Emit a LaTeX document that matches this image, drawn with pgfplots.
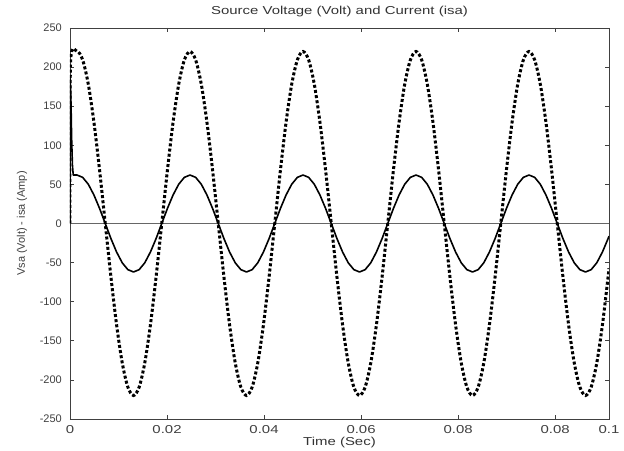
\documentclass[border=0pt]{standalone}
\usepackage{pgfplots}
\usepackage{pgfplotstable}
\pgfplotsset{compat=1.18}
\usepackage{fontspec}
\setmainfont{Liberation Sans}
\newfontfamily\widefont{Liberation Sans}[FakeStretch=1.3]

% source voltage vsa (Volt)
\pgfplotstableread{
t v
0 0
0.0001 205
0.001300 220
0.002348 209.2
0.003397 178.0
0.004445 129.3
0.005493 68.0
0.006541 0
0.007590 -68.0
0.008638 -129.3
0.009686 -178.0
0.010734 -209.2
0.011783 -220
0.012831 -209.2
0.013879 -178.0
0.014927 -129.3
0.015976 -68.0
0.017024 0
0.018072 68.0
0.019120 129.3
0.020169 178.0
0.021217 209.2
0.022265 220
0.023313 209.2
0.024362 178.0
0.025410 129.3
0.026458 68.0
0.027506 0
0.028555 -68.0
0.029603 -129.3
0.030651 -178.0
0.031699 -209.2
0.032748 -220
0.033796 -209.2
0.034844 -178.0
0.035892 -129.3
0.036941 -68.0
0.037989 0
0.039037 68.0
0.040085 129.3
0.041134 178.0
0.042182 209.2
0.043230 220
0.044278 209.2
0.045327 178.0
0.046375 129.3
0.047423 68.0
0.048471 0
0.049520 -68.0
0.050568 -129.3
0.051616 -178.0
0.052664 -209.2
0.053713 -220
0.054761 -209.2
0.055809 -178.0
0.056857 -129.3
0.057906 -68.0
0.058954 0
0.060002 68.0
0.061050 129.3
0.062099 178.0
0.063147 209.2
0.064195 220
0.065243 209.2
0.066292 178.0
0.067340 129.3
0.068388 68.0
0.069436 0
0.070485 -68.0
0.071533 -129.3
0.072581 -178.0
0.073629 -209.2
0.074678 -220
0.075726 -209.2
0.076774 -178.0
0.077822 -129.3
0.078871 -68.0
0.079919 0
0.080967 68.0
0.082015 129.3
0.083064 178.0
0.084112 209.2
0.085160 220
0.086208 209.2
0.087257 178.0
0.088305 129.3
0.089353 68.0
0.090401 0
0.091450 -68.0
0.092498 -129.3
0.093546 -178.0
0.094594 -209.2
0.095643 -220
0.096691 -209.2
0.097739 -178.0
0.098787 -129.3
0.099836 -68.0
0.1 -57.3
}\vsa

% source current isa (Amp)
\pgfplotstableread{
t i
0 0
0.00005 185
0.0002 150
0.0003 110
0.00045 75
0.0006 62
0.001300 62
0.002348 59.0
0.003397 50.2
0.004445 36.4
0.005493 19.2
0.006541 0
0.007590 -19.2
0.008638 -36.4
0.009686 -50.2
0.010734 -59.0
0.011783 -62
0.012831 -59.0
0.013879 -50.2
0.014927 -36.4
0.015976 -19.2
0.017024 0
0.018072 19.2
0.019120 36.4
0.020169 50.2
0.021217 59.0
0.022265 62
0.023313 59.0
0.024362 50.2
0.025410 36.4
0.026458 19.2
0.027506 0
0.028555 -19.2
0.029603 -36.4
0.030651 -50.2
0.031699 -59.0
0.032748 -62
0.033796 -59.0
0.034844 -50.2
0.035892 -36.4
0.036941 -19.2
0.037989 0
0.039037 19.2
0.040085 36.4
0.041134 50.2
0.042182 59.0
0.043230 62
0.044278 59.0
0.045327 50.2
0.046375 36.4
0.047423 19.2
0.048471 0
0.049520 -19.2
0.050568 -36.4
0.051616 -50.2
0.052664 -59.0
0.053713 -62
0.054761 -59.0
0.055809 -50.2
0.056857 -36.4
0.057906 -19.2
0.058954 0
0.060002 19.2
0.061050 36.4
0.062099 50.2
0.063147 59.0
0.064195 62
0.065243 59.0
0.066292 50.2
0.067340 36.4
0.068388 19.2
0.069436 0
0.070485 -19.2
0.071533 -36.4
0.072581 -50.2
0.073629 -59.0
0.074678 -62
0.075726 -59.0
0.076774 -50.2
0.077822 -36.4
0.078871 -19.2
0.079919 0
0.080967 19.2
0.082015 36.4
0.083064 50.2
0.084112 59.0
0.085160 62
0.086208 59.0
0.087257 50.2
0.088305 36.4
0.089353 19.2
0.090401 0
0.091450 -19.2
0.092498 -36.4
0.093546 -50.2
0.094594 -59.0
0.095643 -62
0.096691 -59.0
0.097739 -50.2
0.098787 -36.4
0.099836 -19.2
0.1 -16.2
}\isa

\begin{document}
\begin{tikzpicture}
\begin{axis}[
    scale only axis,
    width=539pt, height=391pt,
    xmin=0, xmax=0.1,
    ymin=-250, ymax=250,
    axis line style={black!75, line width=0.8pt},
    tick align=inside,
    xtick pos=both, ytick pos=both,
    major tick length=4pt,
    tick style={black!75, line width=0.7pt},
    xtick={0,0.018,0.036,0.054,0.072,0.090,0.1},
    xticklabels={0,0.02,0.04,0.06,0.08,0.08,0.1},
    ytick={-250,-200,-150,-100,-50,0,50,100,150,200,250},
    yticklabels={-250,-200,-150,-100,-50,0,50,100,150,200,250},
    /pgf/number format/assume math mode=true,
    xticklabel style={font=\widefont\fontsize{11.5}{13}\selectfont, text=black!75, inner sep=0pt, yshift=-6pt},
    yticklabel style={font=\fontsize{11}{13}\selectfont, text=black!75, inner sep=0pt, xshift=-8pt},
    title={Source Voltage (Volt) and Current (isa)},
    title style={font=\widefont\fontsize{11.5}{13}\selectfont, text=black!80, at={(axis description cs:0.5,1.02)}, anchor=base, inner sep=0pt},
    xlabel={Time (Sec)},
    xlabel style={font=\widefont\fontsize{11.5}{13}\selectfont, text=black!80, at={(axis description cs:0.5,-0.047)}, anchor=north, inner sep=0pt},
    ylabel={Vsa (Volt) - isa (Amp)},
    ylabel style={font=\fontsize{11}{13}\selectfont, text=black!75, at={(axis description cs:-0.089,0.5)}, anchor=center, inner sep=0pt},
]
\addplot[black!60, line width=0.8pt] coordinates {(0,0) (0.1,0)};
\addplot[black, line width=3pt, dash pattern=on 3pt off 2.2pt, smooth] table[x=t, y=v] {\vsa};
\addplot[black, line width=1.6pt, line join=round] table[x=t, y=i] {\isa};
\end{axis}
\pgfresetboundingbox
\path[use as bounding box] (-70pt,-31pt) rectangle (554pt,419pt);
\end{tikzpicture}
\end{document}
